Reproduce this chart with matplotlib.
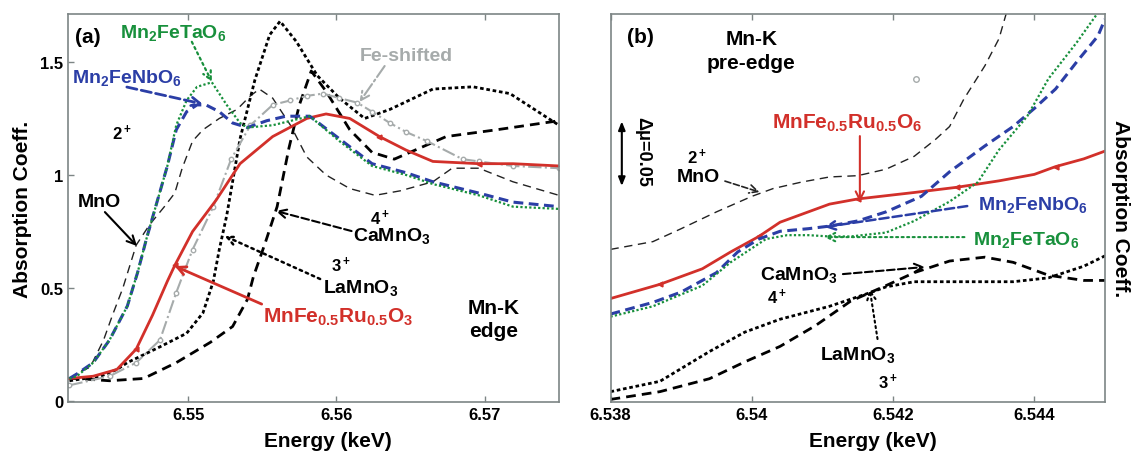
import matplotlib
matplotlib.use("Agg")
import matplotlib.pyplot as plt

plt.rcParams["font.family"] = ["Liberation Sans", "DejaVu Sans"]
plt.rcParams["font.weight"] = "bold"
plt.rcParams["axes.labelweight"] = "bold"
plt.rcParams["mathtext.fontset"] = "custom"
plt.rcParams["mathtext.rm"] = "Liberation Sans:bold"
plt.rcParams["mathtext.it"] = "Liberation Sans:bold"
plt.rcParams["mathtext.bf"] = "Liberation Sans:bold"
plt.rcParams["mathtext.default"] = "rm"

# ---------------- panel (a): Mn-K edge ----------------
nb_e = [6.5420, 6.5425, 6.5436, 6.5447, 6.5459, 6.5466, 6.5472, 6.5479, 6.5486, 6.5492, 6.5499,
        6.5506, 6.5512, 6.5521, 6.5530, 6.5540, 6.5553, 6.5566, 6.5582, 6.5602, 6.5624, 6.5647,
        6.5665, 6.5696, 6.5719, 6.5750]
nb_mu = [0.10, 0.12, 0.17, 0.27, 0.42, 0.57, 0.72, 0.88, 1.04, 1.20, 1.28,
         1.31, 1.31, 1.28, 1.23, 1.21, 1.24, 1.26, 1.26, 1.16, 1.05, 1.01,
         0.97, 0.92, 0.88, 0.86]

ta_e = [6.5420, 6.5425, 6.5436, 6.5447, 6.5459, 6.5466, 6.5472, 6.5479, 6.5486, 6.5492, 6.5499,
        6.5506, 6.5516, 6.5526, 6.5535, 6.5540, 6.5557, 6.5582, 6.5602, 6.5624, 6.5647, 6.5665,
        6.5696, 6.5719, 6.5750]
ta_mu = [0.10, 0.11, 0.17, 0.27, 0.42, 0.57, 0.72, 0.88, 1.04, 1.22, 1.33,
         1.39, 1.41, 1.31, 1.23, 1.21, 1.22, 1.26, 1.15, 1.04, 1.00, 0.96,
         0.91, 0.86, 0.85]

mno_e = [6.5420, 6.5427, 6.5434, 6.5443, 6.5449, 6.5456, 6.5465, 6.5474, 6.5484, 6.5491, 6.5496,
         6.5503, 6.5510, 6.5521, 6.5533, 6.5542, 6.5548, 6.5557, 6.5569, 6.5580, 6.5593, 6.5609,
         6.5626, 6.5643, 6.5665, 6.5678, 6.5696, 6.5719, 6.5750]
mno_mu = [0.10, 0.13, 0.15, 0.27, 0.38, 0.50, 0.69, 0.78, 0.86, 0.92, 1.03,
          1.15, 1.20, 1.25, 1.29, 1.35, 1.38, 1.34, 1.22, 1.08, 1.00, 0.94,
          0.91, 0.93, 0.97, 1.03, 1.03, 0.97, 0.91]

lamno_e = [6.5420, 6.5441, 6.5452, 6.5459, 6.5481, 6.5499, 6.5510, 6.5517, 6.5521, 6.5526, 6.5535,
           6.5545, 6.5555, 6.5562, 6.5573, 6.5587, 6.5602, 6.5619, 6.5636, 6.5665, 6.5692, 6.5717,
           6.5750]
lamno_mu = [0.09, 0.11, 0.14, 0.17, 0.24, 0.30, 0.39, 0.53, 0.67, 0.82, 1.16,
            1.42, 1.62, 1.68, 1.59, 1.44, 1.34, 1.25, 1.29, 1.38, 1.39, 1.36,
            1.22]

camno_e = [6.5420, 6.5425, 6.5447, 6.5470, 6.5492, 6.5515, 6.5530, 6.5540, 6.5544, 6.5552, 6.5560,
           6.5568, 6.5575, 6.5583, 6.5593, 6.5609, 6.5624, 6.5639, 6.5674, 6.5708, 6.5750]
camno_mu = [0.10, 0.10, 0.09, 0.10, 0.17, 0.26, 0.33, 0.45, 0.55, 0.70, 0.86,
            1.12, 1.31, 1.46, 1.37, 1.20, 1.10, 1.07, 1.17, 1.20, 1.24]

fe_e = [6.5420, 6.5447, 6.5465, 6.5481, 6.5492, 6.5503, 6.5517, 6.5529, 6.5542, 6.5557, 6.5569,
        6.5580, 6.5591, 6.5602, 6.5614, 6.5624, 6.5636, 6.5647, 6.5661, 6.5685, 6.5696, 6.5719,
        6.5750]
fe_mu = [0.07, 0.11, 0.17, 0.27, 0.48, 0.67, 0.86, 1.07, 1.22, 1.31, 1.33,
         1.35, 1.36, 1.34, 1.32, 1.28, 1.23, 1.19, 1.15, 1.07, 1.06, 1.04,
         1.03]

ru_e = [6.5420, 6.5436, 6.5452, 6.5465, 6.5476, 6.5486, 6.5491, 6.5503, 6.5519, 6.5535, 6.5557,
        6.5580, 6.5593, 6.5609, 6.5629, 6.5647, 6.5665, 6.5696, 6.5719, 6.5750]
ru_mu = [0.10, 0.11, 0.14, 0.23, 0.38, 0.53, 0.60, 0.75, 0.89, 1.05, 1.17,
         1.25, 1.27, 1.25, 1.17, 1.11, 1.06, 1.05, 1.05, 1.04]

a_xticks = [6.55, 6.56, 6.57]
a_xticklabels = ["6.55", "6.56", "6.57"]
a_yticks = [0, 0.5, 1, 1.5]
a_yticklabels = ["0", "0.5", "1", "1.5"]

# ---------------- panel (b): Mn-K pre-edge ----------------
mno_b_e = [6.5380, 6.5386, 6.5390, 6.5395, 6.5400, 6.5403, 6.5407, 6.5411, 6.5415, 6.5419, 6.5423,
           6.5426, 6.5428, 6.5430, 6.5433, 6.5435, 6.5436, 6.5438]
mno_b_mu = [0.118, 0.124, 0.134, 0.147, 0.159, 0.165, 0.170, 0.174, 0.175, 0.180, 0.190,
            0.203, 0.213, 0.234, 0.260, 0.281, 0.300, 0.330]

ru_b_e = [6.5380, 6.5387, 6.5393, 6.5397, 6.5401, 6.5404, 6.5408, 6.5411, 6.5415, 6.5423, 6.5429,
          6.5435, 6.5440, 6.5443, 6.5447, 6.5450]
ru_b_mu = [0.080, 0.091, 0.103, 0.116, 0.128, 0.139, 0.147, 0.153, 0.157, 0.162, 0.166,
           0.171, 0.176, 0.182, 0.188, 0.194]

nb_b_e = [6.5380, 6.5386, 6.5390, 6.5395, 6.5398, 6.5401, 6.5404, 6.5408, 6.5411, 6.5415, 6.5419,
          6.5424, 6.5428, 6.5433, 6.5437, 6.5440, 6.5443, 6.5446, 6.5449, 6.5450]
nb_b_mu = [0.068, 0.077, 0.085, 0.100, 0.116, 0.126, 0.132, 0.134, 0.136, 0.140, 0.147,
           0.159, 0.178, 0.198, 0.213, 0.227, 0.242, 0.263, 0.283, 0.296]

ta_b_e = [6.5380, 6.5386, 6.5393, 6.5397, 6.5402, 6.5405, 6.5408, 6.5411, 6.5414, 6.5419, 6.5423,
          6.5428, 6.5432, 6.5435, 6.5439, 6.5442, 6.5446, 6.5449, 6.5450]
ta_b_mu = [0.066, 0.074, 0.090, 0.108, 0.126, 0.129, 0.129, 0.128, 0.128, 0.131, 0.140,
           0.155, 0.170, 0.195, 0.221, 0.250, 0.278, 0.301, 0.306]

camno_b_e = [6.5380, 6.5387, 6.5394, 6.5399, 6.5404, 6.5409, 6.5414, 6.5419, 6.5423, 6.5428, 6.5433,
             6.5437, 6.5442, 6.5447, 6.5450]
camno_b_mu = [0.002, 0.008, 0.018, 0.031, 0.043, 0.059, 0.078, 0.090, 0.100, 0.109, 0.112,
              0.108, 0.098, 0.094, 0.094]

lamno_b_e = [6.5380, 6.5387, 6.5394, 6.5399, 6.5404, 6.5411, 6.5417, 6.5419, 6.5423, 6.5428, 6.5433,
             6.5437, 6.5442, 6.5447, 6.5450]
lamno_b_mu = [0.008, 0.016, 0.039, 0.054, 0.064, 0.074, 0.085, 0.089, 0.093, 0.093, 0.093,
              0.093, 0.096, 0.105, 0.113]

stray_marker_e = [6.54233]
stray_marker_mu = [0.250]

b_xticks = [6.538, 6.540, 6.542, 6.544]
b_xticklabels = ["6.538", "6.54", "6.542", "6.544"]

RED = "#d2302a"
BLUE = "#2b3ea6"
GREEN = "#18903c"
GRAY = "#a6abab"
FRAME = "#7d8585"

fig = plt.figure(figsize=(11.31, 4.52), dpi=100)
ax_a = fig.add_axes([0.0601, 0.1084, 0.4341, 0.8584])
ax_b = fig.add_axes([0.5398, 0.1084, 0.4372, 0.8584])


def style_axes(ax):
    for sp in ax.spines.values():
        sp.set_color(FRAME)
        sp.set_linewidth(1.2)
    ax.tick_params(direction="in", length=4, width=1, color=FRAME, labelsize=12, top=True, right=False)


def arrow(ax, tip, tail, color, ls="-", lw=1.6):
    ax.annotate("", xy=tip, xytext=tail,
                arrowprops=dict(arrowstyle="->,head_length=0.6,head_width=0.3", color=color,
                                lw=lw, linestyle=ls, shrinkA=0, shrinkB=0))


def draw_curves(ax, mno, lamno, camno, nb, ta, ru, fe=None, ru_marks=None):
    ax.plot(*mno, color="#222222", lw=1.0, dashes=(6, 4))
    ax.plot(*lamno, color="black", lw=2.0, dashes=(1.3, 1.0))
    ax.plot(*camno, color="black", lw=2.0, dashes=(3.5, 2.2))
    if fe is not None:
        ax.plot(*fe, color=GRAY, lw=1.5, linestyle="-.", marker="o", ms=3.2, mfc="white", mec=GRAY)
    ax.plot(*ru, color=RED, lw=2.0, marker="<", ms=3.5, markevery=ru_marks)
    ax.plot(*nb, color=BLUE, lw=2.2, dashes=(3.2, 1.8))
    ax.plot(*ta, color=GREEN, lw=1.6, dashes=(1.0, 1.0))


# ---- panel (a)
draw_curves(ax_a, (mno_e, mno_mu), (lamno_e, lamno_mu), (camno_e, camno_mu),
            (nb_e, nb_mu), (ta_e, ta_mu), (ru_e, ru_mu), fe=(fe_e, fe_mu), ru_marks=[3, 6, 14, 17])
ax_a.set_xlim(6.5419, 6.5750)
ax_a.set_ylim(-0.004, 1.712)
ax_a.set_xticks(a_xticks)
ax_a.set_xticklabels(a_xticklabels)
ax_a.set_yticks(a_yticks)
ax_a.set_yticklabels(a_yticklabels)
style_axes(ax_a)
ax_a.set_xlabel("Energy (keV)", fontsize=15, labelpad=2)
ax_a.xaxis.set_label_coords(0.53, -0.075)
ax_a.set_ylabel("Absorption Coeff.", fontsize=15, labelpad=6)

ta_ = ax_a.transAxes
ax_a.text(0.014, 0.943, "(a)", transform=ta_, fontsize=15, va="center")
ax_a.text(0.106, 0.954, r"Mn$_2$FeTaO$_6$", transform=ta_, fontsize=14, color=GREEN, va="center")
ax_a.text(0.008, 0.838, r"Mn$_2$FeNbO$_6$", transform=ta_, fontsize=14, color=BLUE, va="center")
ax_a.text(0.090, 0.696, r"2$^+$", transform=ta_, fontsize=12, va="center")
ax_a.text(0.020, 0.518, "MnO", transform=ta_, fontsize=14, va="center")
ax_a.text(0.635, 0.477, r"4$^+$", transform=ta_, fontsize=12, va="center", ha="center")
ax_a.text(0.580, 0.430, r"CaMnO$_3$", transform=ta_, fontsize=14, va="center")
ax_a.text(0.556, 0.356, r"3$^+$", transform=ta_, fontsize=12, va="center", ha="center")
ax_a.text(0.519, 0.296, r"LaMnO$_3$", transform=ta_, fontsize=14, va="center")
ax_a.text(0.397, 0.222, r"MnFe$_{0.5}$Ru$_{0.5}$O$_3$", transform=ta_, fontsize=15, color=RED, va="center")
ax_a.text(0.866, 0.214, "Mn-K\nedge", transform=ta_, fontsize=15, va="center", ha="center", linespacing=1.3)
ax_a.text(0.690, 0.894, "Fe-shifted", transform=ta_, fontsize=14, color=GRAY, va="center", ha="center")

arrow(ax_a, (6.5516, 1.412), (6.55025, 1.589), GREEN, ls=":")
arrow(ax_a, (6.55099, 1.314), (6.54587, 1.389), BLUE, ls="--", lw=2.0)
arrow(ax_a, (6.54655, 0.686), (6.54439, 0.836), "black", lw=1.5)
arrow(ax_a, (6.55591, 0.841), (6.56102, 0.752), "black", ls="--", lw=1.5)
arrow(ax_a, (6.55247, 0.730), (6.55890, 0.540), "black", ls=":", lw=1.8)
arrow(ax_a, (6.54910, 0.597), (6.55496, 0.429), RED, lw=2.0)
arrow(ax_a, (6.56156, 1.323), (6.56325, 1.482), GRAY, ls="-.", lw=1.5)

# ---- panel (b)
draw_curves(ax_b, (mno_b_e, mno_b_mu), (lamno_b_e, lamno_b_mu), (camno_b_e, camno_b_mu),
            (nb_b_e, nb_b_mu), (ta_b_e, ta_b_mu), (ru_b_e, ru_b_mu), ru_marks=[1, 4, 8, 10, 13])
ax_b.plot(stray_marker_e, stray_marker_mu, "o", ms=4, mfc="white", mec=GRAY)
ax_b.set_xlim(6.538, 6.545)
ax_b.set_ylim(0, 0.3)
ax_b.set_xticks(b_xticks)
ax_b.set_xticklabels(b_xticklabels)
ax_b.set_yticks([])
style_axes(ax_b)
ax_b.set_xlabel("Energy (keV)", fontsize=15, labelpad=2)
ax_b.xaxis.set_label_coords(0.53, -0.075)
ax_b.yaxis.set_label_position("right")
ax_b.set_ylabel("Absorption Coeff.", fontsize=15, rotation=270, labelpad=18)

tb = ax_b.transAxes
ax_b.text(0.033, 0.941, "(b)", transform=tb, fontsize=15, va="center")
ax_b.text(0.285, 0.906, "Mn-K\npre-edge", transform=tb, fontsize=15, va="center", ha="center", linespacing=1.3)
ax_b.annotate("", xy=(6.53816, 0.167), xytext=(6.53816, 0.217),
              arrowprops=dict(arrowstyle="<|-|>,head_length=0.5,head_width=0.2", color="black", lw=1.5,
                              shrinkA=0, shrinkB=0))
ax_b.text(0.066, 0.647, "\u0394\u03bc=0.05", transform=tb, fontsize=13, rotation=-90, va="center", ha="center")
ax_b.text(0.175, 0.634, r"2$^+$", transform=tb, fontsize=12, va="center", ha="center")
ax_b.text(0.177, 0.580, "MnO", transform=tb, fontsize=14, va="center", ha="center")
ax_b.text(0.327, 0.722, r"MnFe$_{0.5}$Ru$_{0.5}$O$_6$", transform=tb, fontsize=15, color=RED, va="center")
ax_b.text(0.743, 0.510, r"Mn$_2$FeNbO$_6$", transform=tb, fontsize=14, color=BLUE, va="center")
ax_b.text(0.733, 0.420, r"Mn$_2$FeTaO$_6$", transform=tb, fontsize=14, color=GREEN, va="center")
ax_b.text(0.302, 0.330, r"CaMnO$_3$", transform=tb, fontsize=14, va="center")
ax_b.text(0.337, 0.273, r"4$^+$", transform=tb, fontsize=12, va="center", ha="center")
ax_b.text(0.423, 0.124, r"LaMnO$_3$", transform=tb, fontsize=14, va="center")
ax_b.text(0.561, 0.052, r"3$^+$", transform=tb, fontsize=12, va="center", ha="center")

arrow(ax_b, (6.54011, 0.1623), (6.53962, 0.1708), "#222222", ls="--", lw=1.2)
arrow(ax_b, (6.54153, 0.1546), (6.54153, 0.2056), RED, lw=1.5)
arrow(ax_b, (6.54103, 0.1353), (6.54305, 0.1515), BLUE, ls="--", lw=1.8)
arrow(ax_b, (6.54103, 0.1275), (6.54301, 0.1275), GREEN, ls=":", lw=1.5)
arrow(ax_b, (6.54245, 0.1044), (6.54129, 0.0989), "black", ls="--", lw=1.5)
arrow(ax_b, (6.54167, 0.0873), (6.54178, 0.0487), "black", ls=":", lw=1.5)

fig.savefig("out.png", dpi=100)
